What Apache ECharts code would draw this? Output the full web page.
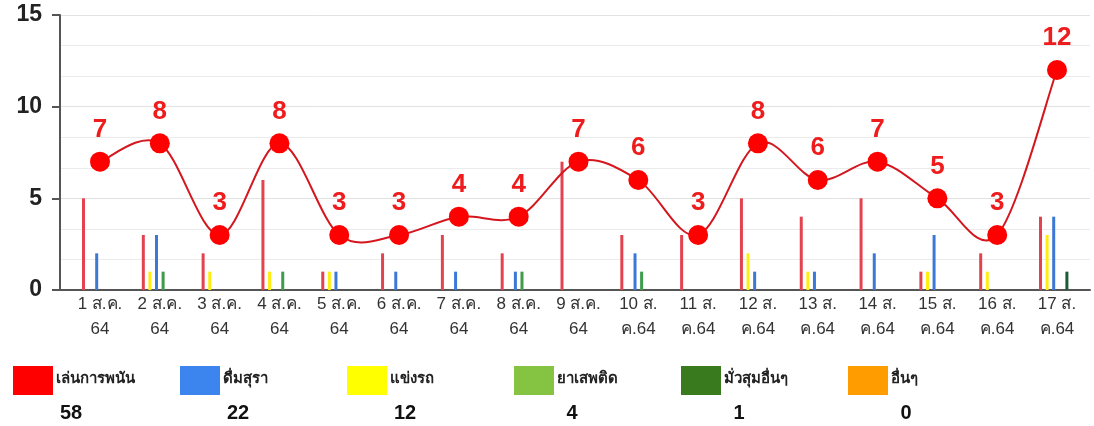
<!DOCTYPE html>
<html><head><meta charset="utf-8">
<script src="https://cdn.jsdelivr.net/npm/echarts@6/dist/echarts.min.js"></script>
<style>html,body{margin:0;padding:0;background:#fff}#c{width:1094px;height:426px}</style>
</head><body><div id="c"></div>
<script>
const categories = ['1 ส.ค.\n64','2 ส.ค.\n64','3 ส.ค.\n64','4 ส.ค.\n64','5 ส.ค.\n64','6 ส.ค.\n64','7 ส.ค.\n64','8 ส.ค.\n64','9 ส.ค.\n64','10 ส.\nค.64','11 ส.\nค.64','12 ส.\nค.64','13 ส.\nค.64','14 ส.\nค.64','15 ส.\nค.64','16 ส.\nค.64','17 ส.\nค.64'];
const gambling = [5,3,2,6,1,2,3,2,7,3,3,5,4,5,1,2,4];
const racing   = [0,1,1,1,1,0,0,0,0,0,0,2,1,0,1,1,3];
const drinking = [2,3,0,0,1,1,1,1,0,2,0,1,1,2,3,0,4];
const drugs    = [0,1,0,1,0,0,0,1,0,1,0,0,0,0,0,0,0];
const gathering= [0,0,0,0,0,0,0,0,0,0,0,0,0,0,0,0,1];
const others   = [0,0,0,0,0,0,0,0,0,0,0,0,0,0,0,0,0];
const totals   = [7,8,3,8,3,3,4,4,7,6,3,8,6,7,5,3,12];
const legendNames = ['เล่นการพนัน','ดื่มสุรา','แข่งรถ','ยาเสพติด','มั่วสุมอื่นๆ','อื่นๆ'];
const legendTotals = [58,22,12,4,1,0];
const legendColors = ['#ff0000','#3d85ee','#ffff00','#85c343','#3a7a1f','#ff9c00'];
const yTicks = [0,5,10,15];

const chart = echarts.init(document.getElementById('c'));
const barSeries = [
  {name:'เล่นการพนัน', data:gambling, color:'#e2434f'},
  {name:'แข่งรถ', data:racing, color:'#ffee10'},
  {name:'ดื่มสุรา', data:drinking, color:'#3c78d8'},
  {name:'ยาเสพติด', data:drugs, color:'#3e9c4a'},
  {name:'มั่วสุมอื่นๆ', data:gathering, color:'#1f5a36'},
  {name:'อื่นๆ', data:others, color:'#ff9c00'}
].map(s => ({type:'bar', name:s.name, data:s.data, xAxisIndex:1, yAxisIndex:1,
  barWidth:3, barGap:'120%', clip:false, itemStyle:{color:s.color}, z:2}));

const graphics = [];
legendNames.forEach((n,i) => {
  const x0 = 13 + i*167;
  graphics.push({type:'rect', left:x0, top:366, shape:{width:40, height:29}, style:{fill:legendColors[i]}});
  graphics.push({type:'text', left:x0+43, top:371, style:{text:n, fontSize:15, fontWeight:'bold', fill:'#222', fontFamily:'sans-serif'}});
  graphics.push({type:'text', x:x0+58, y:413, style:{text:String(legendTotals[i]), fontSize:20, fontWeight:'bold', fill:'#111', align:'center', verticalAlign:'middle', fontFamily:'sans-serif'}});
});

// Catmull-Rom style smooth curve segment drawn through the axis scales
function renderSegment(params, api) {
  const i = params.dataIndex;
  if (i >= totals.length - 1) return null;
  const P = j => api.coord([Math.max(0, Math.min(totals.length - 1, j)), totals[Math.max(0, Math.min(totals.length - 1, j))]]);
  const p0 = P(i - 1), p1 = P(i), p2 = P(i + 1), p3 = P(i + 2);
  const k = 1 / 6;
  return {
    type:'bezierCurve',
    shape:{x1:p1[0], y1:p1[1], x2:p2[0], y2:p2[1],
      cpx1:p1[0] + (p2[0] - p0[0]) * k, cpy1:p1[1] + (p2[1] - p0[1]) * k,
      cpx2:p2[0] - (p3[0] - p1[0]) * k, cpy2:p2[1] - (p3[1] - p1[1]) * k},
    style:{stroke:'#d4161e', lineWidth:2, fill:null}
  };
}

chart.setOption({
  animation:false,
  textStyle:{fontFamily:'sans-serif'},
  grid:[
    {left:60, right:4, top:15, bottom:136},
    {left:100, right:37, top:15, bottom:136}
  ],
  xAxis:[
    {type:'value', gridIndex:0, min:0, max:1, axisLine:{show:true, lineStyle:{color:'#555', width:2}},
     axisTick:{show:false}, axisLabel:{show:false}, splitLine:{show:false}},
    {type:'category', gridIndex:1, data:categories, boundaryGap:false,
     axisLine:{show:false}, axisTick:{show:false}, splitLine:{show:false},
     axisLabel:{fontSize:17, color:'#333', lineHeight:25, margin:2, interval:0}}
  ],
  yAxis:[
    {type:'value', gridIndex:0, min:yTicks[0], max:yTicks[yTicks.length-1], interval:5,
     axisLine:{show:true, lineStyle:{color:'#555', width:2}},
     axisTick:{show:true, length:8, lineStyle:{color:'#555', width:2}},
     axisLabel:{fontSize:23, fontWeight:'bold', color:'#222', margin:18, fontFamily:'Liberation Sans'},
     splitLine:{show:true, lineStyle:{color:'#e2e2e2'}},
     minorTick:{show:false, splitNumber:3},
     minorSplitLine:{show:true, lineStyle:{color:'#ebebeb'}}},
    {type:'value', gridIndex:1, min:0, max:15, show:false}
  ],
  graphic:graphics,
  series:[...barSeries,
    {type:'custom', name:'curve', xAxisIndex:1, yAxisIndex:1, data:totals, renderItem:renderSegment, z:4, clip:false, silent:true},
    {type:'line', name:'รวม', data:totals, xAxisIndex:1, yAxisIndex:1, clip:false,
     symbol:'circle', symbolSize:20, z:5,
     lineStyle:{width:0, opacity:0},
     itemStyle:{color:'#ff0000'},
     label:{show:true, position:'top', distance:9, fontSize:26, fontWeight:'bold', color:'#ee1c1c', fontFamily:'Liberation Sans'}}
  ]
});
</script></body></html>
